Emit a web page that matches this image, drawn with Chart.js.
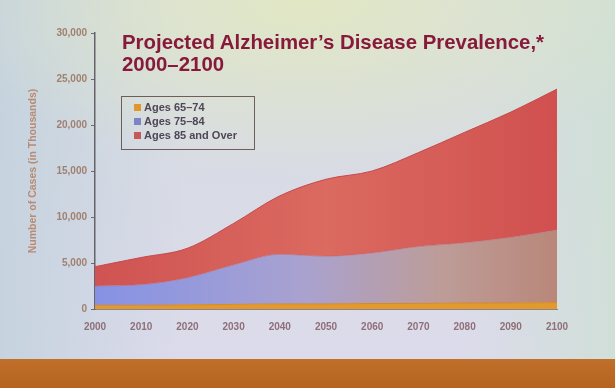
<!DOCTYPE html>
<html>
<head>
<meta charset="utf-8">
<script src="https://cdn.jsdelivr.net/npm/chart.js@4.4.0/dist/chart.umd.min.js"></script>
<style>
  html, body { margin: 0; padding: 0; }
  #slide {
    position: relative; width: 615px; height: 388px; overflow: hidden;
    font-family: "Liberation Sans", Arial, sans-serif;
    background:
      linear-gradient(to bottom, rgba(0,0,0,0) 359px, #c0702b 359px, #b5631f 388px),
      radial-gradient(ellipse 60% 45% at 50% 0%, rgba(226,232,194,0.95), rgba(226,232,194,0)),
      linear-gradient(to right, rgba(196,210,222,0.9) 0%, rgba(196,210,222,0) 30%, rgba(0,0,0,0) 75%, rgba(206,224,212,0.8) 100%),
      linear-gradient(to bottom, #d6dde0 0%, #d9dbe6 55%, #dcdbeb 92%);
  }
  #chart { position: absolute; left: 0; top: 0; }
  #title {
    position: absolute; left: 122px; top: 31px;
    font-size: 20.4px; line-height: 22.4px; font-weight: bold; color: #871a3b;
    white-space: nowrap;
  }
  #legend {
    position: absolute; left: 121px; top: 96px; width: 132px; height: 49px;
    border: 1.5px solid #6e5d58; padding-top: 3px;
  }
  .item { height: 14px; line-height: 14px; font-size: 11px; font-weight: bold; color: #4f4659; white-space: nowrap; }
  .sw { display: inline-block; width: 7px; height: 7px; margin: 0 3px 0 12px; vertical-align: 0px; }
</style>
</head>
<body>
<div id="slide">
  <canvas id="chart" width="615" height="388"></canvas>
  <div id="title">Projected Alzheimer’s Disease Prevalence,*<br>2000–2100</div>
  <div id="legend"></div>
</div>
<script>
// number of cases, in thousands
const years = ['2000', '2010', '2020', '2030', '2040', '2050', '2060', '2070', '2080', '2090', '2100'];
const ages65to74 = [400, 400, 450, 500, 550, 550, 600, 600, 650, 650, 700];
const ages75to84 = [2100, 2250, 2950, 4300, 5400, 5200, 5500, 6200, 6550, 7150, 7900];
const ages85plus = [2100, 2950, 3200, 4500, 6350, 8350, 8900, 10200, 12000, 13600, 15300];
const seriesNames = ['Ages 65–74', 'Ages 75–84', 'Ages 85 and Over'];
const yTicks = [0, 5000, 10000, 15000, 20000, 25000, 30000];

const legendColors = ['#e0962a', '#7c84c8', '#c85858'];

// blue band fades to brown across the slide (photo colour shift)
function midFill(context) {
    const area = context.chart.chartArea;
    if (!area) return '#8f9ae0';
    const g = context.chart.ctx.createLinearGradient(area.left, 0, area.right, 0);
    g.addColorStop(0, '#8592e4');
    g.addColorStop(0.45, '#a9a2d0');
    g.addColorStop(0.75, '#bd9c98');
    g.addColorStop(1, '#b9877a');
    return g;
}

function topFill(context) {
    const area = context.chart.chartArea;
    if (!area) return '#d45e58';
    const g = context.chart.ctx.createLinearGradient(area.left, 0, area.right, 0);
    g.addColorStop(0, '#cf5352');
    g.addColorStop(0.5, '#db6a60');
    g.addColorStop(1, '#d0504f');
    return g;
}

const ctx = document.getElementById('chart').getContext('2d');
const chart = new Chart(ctx, {
    type: 'line',
    data: {
        labels: years,
        datasets: [{
            label: seriesNames[0],
            data: ages65to74,
            backgroundColor: '#e39a2c',
            borderColor: '#d88a2a',
            borderWidth: 1,
            fill: 'origin',
        }, {
            label: seriesNames[1],
            data: ages75to84,
            backgroundColor: midFill,
            borderColor: 'rgba(190,100,110,0.6)',
            borderWidth: 1,
            fill: '-1',
        }, {
            label: seriesNames[2],
            data: ages85plus,
            backgroundColor: topFill,
            borderColor: '#c44a4c',
            borderWidth: 1,
            fill: '-1',
        }]
    },
    options: {
        responsive: false,
        animation: false,
        layout: { padding: { left: 0, top: 33, right: 58, bottom: 0 } },
        elements: {
            point: { radius: 0 },
            line: { cubicInterpolationMode: 'monotone' },
        },
        plugins: {
            legend: { display: false },
            title: { display: false },
            tooltip: { enabled: false },
        },
        scales: {
            x: {
                grid: { display: false, drawTicks: false },
                border: { display: true, color: '#8a8490', width: 1 },
                ticks: {
                    padding: 12,
                    color: '#8f6f78',
                    font: { family: '"Liberation Sans", Arial, sans-serif', size: 10, weight: 'bold' },
                    maxRotation: 0,
                    autoSkip: false,
                },
                afterFit: s => { s.height = 79; },
            },
            y: {
                stacked: true,
                min: 0,
                max: 30000,
                afterBuildTicks: s => { s.ticks = yTicks.map(v => ({ value: v })); },
                grid: { display: true, drawOnChartArea: false, tickLength: 4, color: '#6f6a70' },
                border: { display: true, color: '#66626a', width: 1.5 },
                ticks: {
                    padding: 4,
                    color: '#a08070',
                    font: { family: '"Liberation Sans", Arial, sans-serif', size: 10, weight: 'bold' },
                    callback: v => v.toLocaleString('en-US'),
                },
                title: {
                    display: true,
                    text: 'Number of Cases (in Thousands)',
                    color: '#b98b72',
                    padding: { top: 27, bottom: 0 },
                    font: { family: '"Liberation Sans", Arial, sans-serif', size: 10.5, weight: 'bold' },
                },
                afterFit: s => { s.width = 95; },
            }
        }
    }
});

// legend box built from the dataset names
const legend = document.getElementById('legend');
chart.data.datasets.forEach((ds, i) => {
    const row = document.createElement('div');
    row.className = 'item';
    row.innerHTML = '<span class="sw" style="background:' + legendColors[i] + '"></span>' + ds.label;
    legend.appendChild(row);
});
</script>
</body>
</html>
